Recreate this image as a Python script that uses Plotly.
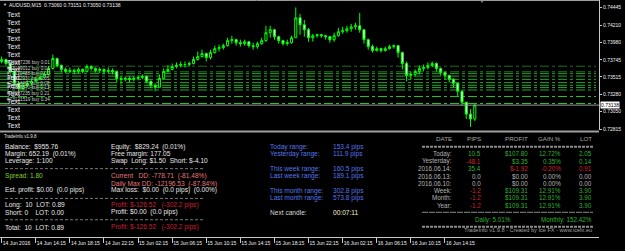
import plotly.graph_objects as go

W, H = 625, 251
FONT = "Liberation Sans, Arial, sans-serif"

# ---------------- data ----------------
title_text = "AUDUSD,M15  0.73060 0.73151 0.73050 0.73138"
first_open = 0.73722
close = [0.73748, 0.73695, 0.73589, 0.73430, 0.73363, 0.73403, 0.73430, 0.73456, 0.73483, 0.73509,
         0.73549, 0.73629, 0.73762, 0.73669, 0.73616, 0.73589, 0.73602, 0.73589, 0.73616, 0.73589,
         0.73655, 0.73629, 0.73602, 0.73616, 0.73589, 0.73602, 0.73589, 0.73496, 0.73483, 0.73496,
         0.73483, 0.73496, 0.73509, 0.73523, 0.73456, 0.73403, 0.73377, 0.73496, 0.73589, 0.73616,
         0.73655, 0.73669, 0.73682, 0.73682, 0.73695, 0.73748, 0.73788, 0.73828, 0.73775, 0.73841,
         0.73894, 0.73908, 0.73934, 0.74001, 0.74014, 0.73974, 0.73961, 0.73987, 0.73934, 0.73921,
         0.73961, 0.74001, 0.74107, 0.74147, 0.74054, 0.74001, 0.73961, 0.73974, 0.74040, 0.74306,
         0.74213, 0.74147, 0.74040, 0.74067, 0.74080, 0.74067, 0.74054, 0.74014, 0.74067, 0.74120,
         0.74133, 0.74160, 0.74186, 0.74200, 0.74147, 0.74014, 0.73921, 0.73868, 0.73894, 0.73868,
         0.73894, 0.73921, 0.73934, 0.73841, 0.73695, 0.73536, 0.73549, 0.73589, 0.73629, 0.73642,
         0.73669, 0.73695, 0.73629, 0.73576, 0.73536, 0.73483, 0.73430, 0.73324, 0.73178, 0.73018,
         0.72952, 0.73138]
high = [0.73788, 0.73762, 0.73709, 0.73616, 0.73456, 0.73430, 0.73470, 0.73496, 0.73523, 0.73549,
        0.73589, 0.73655, 0.73815, 0.73775, 0.73682, 0.73642, 0.73642, 0.73629, 0.73642, 0.73629,
        0.73682, 0.73669, 0.73642, 0.73642, 0.73629, 0.73642, 0.73629, 0.73602, 0.73523, 0.73523,
        0.73523, 0.73523, 0.73536, 0.73549, 0.73536, 0.73470, 0.73430, 0.73549, 0.73629, 0.73669,
        0.73695, 0.73709, 0.73722, 0.73722, 0.73722, 0.73788, 0.73855, 0.73881, 0.73841, 0.73881,
        0.73934, 0.73947, 0.73961, 0.74040, 0.74067, 0.74027, 0.74014, 0.74014, 0.73987, 0.73974,
        0.73987, 0.74040, 0.74200, 0.74200, 0.74160, 0.74067, 0.74014, 0.74014, 0.74067, 0.74445,
        0.74359, 0.74279, 0.74173, 0.74093, 0.74093, 0.74093, 0.74080, 0.74067, 0.74107, 0.74173,
        0.74186, 0.74200, 0.74226, 0.74239, 0.74372, 0.74147, 0.74027, 0.73947, 0.73921, 0.73908,
        0.73921, 0.73947, 0.73947, 0.73934, 0.73855, 0.73722, 0.73589, 0.73616, 0.73669, 0.73682,
        0.73709, 0.73722, 0.73709, 0.73642, 0.73589, 0.73536, 0.73496, 0.73430, 0.73337, 0.73178,
        0.73085, 0.73151]
low = [0.73695, 0.73669, 0.73563, 0.73403, 0.73324, 0.73337, 0.73377, 0.73403, 0.73443, 0.73470,
       0.73496, 0.73536, 0.73616, 0.73642, 0.73576, 0.73563, 0.73563, 0.73549, 0.73563, 0.73563,
       0.73576, 0.73602, 0.73576, 0.73563, 0.73549, 0.73563, 0.73549, 0.73443, 0.73417, 0.73456,
       0.73443, 0.73456, 0.73470, 0.73483, 0.73430, 0.73363, 0.73324, 0.73377, 0.73483, 0.73576,
       0.73602, 0.73629, 0.73642, 0.73642, 0.73655, 0.73682, 0.73735, 0.73775, 0.73722, 0.73748,
       0.73828, 0.73855, 0.73881, 0.73921, 0.73961, 0.73934, 0.73921, 0.73934, 0.73908, 0.73881,
       0.73894, 0.73947, 0.73987, 0.74040, 0.74014, 0.73961, 0.73934, 0.73934, 0.73961, 0.74040,
       0.74080, 0.74054, 0.73987, 0.73987, 0.74040, 0.74040, 0.74014, 0.73974, 0.73987, 0.74054,
       0.74093, 0.74107, 0.74120, 0.74147, 0.74107, 0.73961, 0.73881, 0.73841, 0.73855, 0.73841,
       0.73855, 0.73881, 0.73894, 0.73775, 0.73616, 0.73456, 0.73483, 0.73523, 0.73549, 0.73589,
       0.73616, 0.73642, 0.73589, 0.73536, 0.73483, 0.73443, 0.73377, 0.73257, 0.73138, 0.72952,
       0.72846, 0.72925]
open_ = [first_open] + close[:-1]
bar_no = list(range(0, 2 * len(close), 2))   # M15 bar number of each drawn candle

time_tick_bars = [0, 16, 32, 48, 64, 80, 96, 112, 128, 144, 160, 176, 192, 208]
time_tick_text = ["14 Jun 2016", "14 Jun 14:15", "14 Jun 18:15", "14 Jun 22:15", "15 Jun 02:15",
                  "15 Jun 06:15", "15 Jun 10:15", "15 Jun 14:15", "15 Jun 18:15", "15 Jun 22:15",
                  "16 Jun 02:15", "16 Jun 06:15", "16 Jun 10:15", "16 Jun 14:15"]
price_ticks = [0.74445, 0.74210, 0.73980, 0.73745, 0.73515, 0.73280, 0.73050, 0.72815]
last_price = 0.73138

order_prices = [0.73659, 0.73585, 0.73563, 0.73527, 0.73483, 0.73439, 0.73403, 0.73373,
                0.73341, 0.73253, 0.73160]
order_labels = ["#73107236 buy 0.01", "#73109012 buy 0.01", "#73110488 buy 0.02",
                "#73112931 buy 0.05", "#73114407 buy 0.08", "#73115870 buy 0.13",
                "#73117235 buy 0.21", "#73121519 buy 0.34"]
order_label_prices = [0.73709, 0.73629, 0.73563, 0.73496, 0.73430, 0.73377, 0.73297, 0.73218]
text_label = "Text"
text_label_count = 15

sub_ticks = [-90000000, 90000000]
sub_tick_text = ["-90000000", "90000000"]

panel_title = "TradeInfo v1.9.8"
acc_col1 = ["Balance:  $955.76", "Margin: 652.19  (0.01%)", "Leverage: 1:100"]
acc_col2 = ["Equity:  $829.24  (0.01%)", "Free margin: 177.05", "Swap  Long: $1.50  Short: $-4.10"]
spread_text = "Spread: 1.80"
dd_texts = ["Current   DD: -778.71  (-81.48%)", "Daily Max DD: -12196.53  (-87.84%)"]
est_text = "Est. profit: $0.00  (0.0 pips)"
maxloss_text = "Max loss:  $0.00  (0.0 pips)  (0.00%)"
pos_col1 = ["Long:  10  LOT: 0.89", "Short: 0    LOT: 0.00"]
pos_col2 = ["Profit: $-126.52   (-302.2 pips)", "Profit: $0.00  (0.0 pips)"]
total_col1 = "Total:  10  LOT: 0.89"
total_col2 = "Profit: $-126.52   (-302.2 pips)"

range_labels = ["Today range:", "Yesterday range:", "This week range:", "Last week range:",
                "This month range:", "Last month range:"]
range_values = [153.4, 111.9, 160.5, 189.1, 302.8, 573.8]
next_candle_label = "Next candle:"
next_candle_value = "00:07:11"

table_headers = ["DATE", "PIPS", "PROFIT", "GAIN %", "LOT"]
table_dates = ["Today:", "Yesterday:", "2016.06.14:", "2016.06.13:", "2016.06.10:",
               "Week:", "Month:", "Year:"]
table_pips = [10.5, -48.1, 35.4, 0.0, 0.0, -1.2, -1.2, -1.2]
table_profit = [107.80, 3.35, -1.92, 0.00, 0.00, 109.31, 109.31, 109.31]
table_gain = [12.72, 0.35, -0.20, 0.00, 0.00, 12.91, 12.91, 12.91]
table_lot = [2.05, 0.14, 0.91, 0.00, 0.00, 3.90, 3.90, 3.90]
daily_text = "Daily: 5.01%"
monthly_text = "Monthly: 152.42%"
credit_text = "TradeInfo v1.9.8 - Created by Ice FX - www.icefx.eu"

# ---------------- figure ----------------
PX_PER_BAR = 2.131
BAR0_PX = 1.7
RIGHT_PX = 599
MAIN_BOTTOM_PX = 131
PRICE_PER_PX = 0.00013274
PRICE_TOP = 0.745448

def px2x(px):
    return px / W

def py2y(py):
    return 1 - py / H

def sp(s):
    return s.replace(" ", "\u00a0")

fig = go.Figure()
fig.add_trace(go.Candlestick(
    x=bar_no, open=open_, high=high, low=low, close=close,
    increasing=dict(line=dict(color="#00ff00", width=1), fillcolor="#000000"),
    decreasing=dict(line=dict(color="#00ff00", width=1), fillcolor="#ffffff"),
    whiskerwidth=0, hoverinfo="skip", showlegend=False, xaxis="x", yaxis="y"))

shapes = []
# order lines
for k, p in enumerate(order_prices):
    col = "#1d6e1d" if k < 2 else ("#22a522" if k < 9 else "#2cc22c")
    shapes.append(dict(type="line", xref="paper", yref="y", x0=0, x1=px2x(596), y0=p, y1=p,
                       line=dict(color=col, width=1, dash="dashdot"), layer="below"))
# bid line
shapes.append(dict(type="line", xref="paper", yref="y", x0=0, x1=px2x(RIGHT_PX),
                   y0=last_price, y1=last_price, line=dict(color="#9a9a9a", width=1)))
# top border
shapes.append(dict(type="line", xref="paper", yref="paper", x0=0, x1=px2x(RIGHT_PX),
                   y0=py2y(0.5), y1=py2y(0.5), line=dict(color="#a0a0a0", width=1)))
# window separator
shapes.append(dict(type="line", xref="paper", yref="paper", x0=0, x1=px2x(RIGHT_PX),
                   y0=py2y(132.5), y1=py2y(132.5), line=dict(color="#a0a0a0", width=2)))
# left panel separators
for yy in [170, 200, 221.5]:
    shapes.append(dict(type="line", xref="paper", yref="paper", x0=px2x(5), x1=px2x(205),
                       y0=py2y(yy), y1=py2y(yy), line=dict(color="#7a7a7a", width=1, dash="3px,2px")))
# right table separators
for yy, wdt, dsh in [(148, 2, "3px,1px"), (214, 1, "6px,1px"), (228.5, 2, "3px,1px")]:
    shapes.append(dict(type="line", xref="paper", yref="paper", x0=px2x(422), x1=px2x(593),
                       y0=py2y(yy), y1=py2y(yy), line=dict(color="#8c8c8c", width=wdt, dash=dsh)))

ann = []
def txt(px, py, s, color, size, anchor="left", yref="paper", yval=None):
    ann.append(dict(x=px2x(px), y=(py2y(py) if yval is None else yval), xref="paper", yref=yref,
                    text=sp(s), showarrow=False, xanchor=anchor, yanchor="middle",
                    borderpad=0, font=dict(family=FONT, size=size, color=color)))

# title
txt(2, 5, "\u25BC", "#e0e0e0", 4)
txt(8, 5, title_text, "#f0f0f0", 5)
txt(479, 2, "\u25BC", "#9a9a9a", 4)

# order labels
for s, p in zip(order_labels, order_label_prices):
    txt(6, 0, s, "#cfcfcf", 4.7, yref="y", yval=p)
# "Text" labels
for k in range(text_label_count):
    txt(6, 15 + k * 7.93, text_label, "#e6e9f0", 7)

# price label box
ann.append(dict(x=px2x(600), y=last_price, xref="paper", yref="y", text="0.73138",
                showarrow=False, xanchor="left", yanchor="middle", bgcolor="#ffffff",
                borderpad=0, font=dict(family=FONT, size=5, color="#000000")))

# left info panel
WHITE = "#e6e6e6"
FS = 6.6
txt(3, 138, panel_title, "#e0e0e0", 4.5)
for k, s in enumerate(acc_col1):
    txt(4, [148, 155, 162.5][k], s, WHITE, FS)
for k, s in enumerate(acc_col2):
    txt(110, [148, 155, 162.5][k], s, WHITE, FS)
txt(4, 177.5, spread_text, "#80d020", FS)
txt(110, 177.5, dd_texts[0], "#e07a7a", FS)
txt(110, 185, dd_texts[1], "#e07a7a", FS)
txt(4, 192, est_text, WHITE, FS)
txt(110, 192, maxloss_text, WHITE, FS)
txt(4, 207, pos_col1[0], WHITE, FS)
txt(4, 214, pos_col1[1], WHITE, FS)
txt(110, 207, pos_col2[0], "#cc1f3a", FS)
txt(110, 214, pos_col2[1], WHITE, FS)
txt(4, 229, total_col1, WHITE, FS)
txt(110, 229, total_col2, "#cc1f3a", FS)

# range block
BLUE = "#5577e8"
for k, (lab, val) in enumerate(zip(range_labels, range_values)):
    yy = [148, 155, 170, 177.3, 192.3, 199.3][k]
    txt(269, yy, lab, BLUE, FS)
    txt(332, yy, f"{val:.1f} pips", BLUE, FS)
txt(269, 214.3, next_candle_label, "#d8d8d8", FS)
txt(332, 214.3, next_candle_value, "#f0f0d8", FS)

# statistics table
GREEN, RED, GRAY = "#30b030", "#d02030", "#b4b4b4"
col_right = [453, 482, 529, 562, 593]
for k, h in enumerate(table_headers):
    txt(col_right[k], 140, h, "#a6a6a6", 6.2, anchor="right")

def sign_col(v):
    return GREEN if v > 0 else (RED if v < 0 else GRAY)

row_y = [155, 162.5, 170, 177.5, 185, 192, 199.5, 207]
for k in range(len(table_dates)):
    yy = row_y[k]
    txt(col_right[0], yy, table_dates[k], GRAY, 6.3, anchor="right")
    txt(col_right[1], yy, f"{table_pips[k]:.1f}", sign_col(table_pips[k]), 6.3, anchor="right")
    txt(col_right[2], yy, f"${table_profit[k]:.2f}", sign_col(table_profit[k]), 6.3, anchor="right")
    txt(col_right[3], yy, f"{table_gain[k]:.2f}%", sign_col(table_gain[k]), 6.3, anchor="right")
    lot_col = GRAY if table_lot[k] == 0 else (RED if table_profit[k] < 0 else GREEN)
    txt(col_right[4], yy, f"{table_lot[k]:.2f}", lot_col, 6.3, anchor="right")
txt(493, 222, daily_text, GREEN, 6.3, anchor="center")
txt(593, 222, monthly_text, GREEN, 6.3, anchor="right")
txt(593, 232, credit_text, "#a0a0a0", 5.6, anchor="right")

x_lo = (0 - BAR0_PX) / PX_PER_BAR
x_hi = (RIGHT_PX - BAR0_PX) / PX_PER_BAR

fig.update_layout(
    width=W, height=H, margin=dict(l=0, r=0, t=0, b=0),
    paper_bgcolor="#000000", plot_bgcolor="#000000", showlegend=False,
    xaxis=dict(domain=[0, px2x(RIGHT_PX)], range=[x_lo, x_hi], anchor="free", position=py2y(238.5),
               rangeslider=dict(visible=False), showgrid=False, zeroline=False,
               showline=True, linecolor="#c8c8c8", linewidth=1,
               ticks="outside", ticklen=5, tickcolor="#c8c8c8", tickangle=0,
               tickmode="array", tickvals=time_tick_bars, ticktext=time_tick_text,
               ticklabelposition="outside right", ticklabelstandoff=1,
               tickfont=dict(family=FONT, size=5, color="#f0f0f0")),
    yaxis=dict(domain=[py2y(MAIN_BOTTOM_PX), 1],
               range=[PRICE_TOP - PRICE_PER_PX * MAIN_BOTTOM_PX, PRICE_TOP],
               anchor="x", side="right", showgrid=False, zeroline=False,
               showline=True, linecolor="#c8c8c8", linewidth=1,
               ticks="outside", ticklen=2, tickcolor="#c8c8c8",
               tickmode="array", tickvals=price_ticks,
               ticktext=[f"{v:.5f}" for v in price_ticks],
               tickfont=dict(family=FONT, size=5, color="#f0f0f0")),
    yaxis2=dict(domain=[py2y(238.5), py2y(133)], range=[95400000, -95400000],
                anchor="x", side="right", showgrid=False, zeroline=False,
                showline=True, linecolor="#c8c8c8", linewidth=1,
                ticks="", tickmode="array", tickvals=sub_ticks, ticktext=sub_tick_text,
                tickfont=dict(family=FONT, size=5, color="#f0f0f0")),
    shapes=shapes, annotations=ann,
)

fig.write_html("out.html")
